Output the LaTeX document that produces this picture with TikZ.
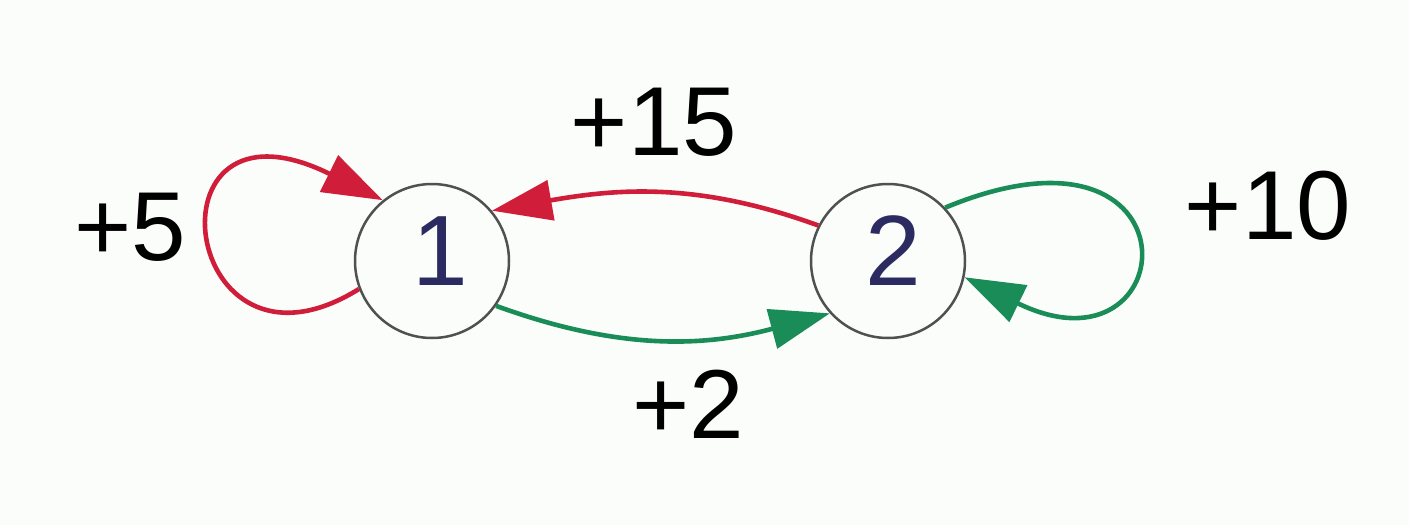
\documentclass[tikz,border=0pt]{standalone}
\usepackage{fontspec}
\setmainfont{Liberation Sans}
\usetikzlibrary{arrows.meta}
\definecolor{edgered}{HTML}{D01E3A}
\definecolor{edgegreen}{HTML}{1A8C58}
\definecolor{numnavy}{HTML}{2B2B62}
\definecolor{ringgray}{HTML}{505050}
\definecolor{bgcol}{HTML}{FBFDFB}
\begin{document}
\begin{tikzpicture}[x=1pt,y=-1pt,
  state/.style={circle,draw=ringgray,line width=2.5pt,minimum size=154pt,inner sep=0pt,
    text=numnavy,font=\fontsize{100}{100}\selectfont,text depth=20pt},
  lab/.style={font=\fontsize{98}{100}\selectfont,text=black,inner sep=0pt},
  redarr/.style={draw=edgered,line width=4.6pt,-{Triangle[length=60pt,width=40pt,fill=edgered]}},
  greenarr/.style={draw=edgegreen,line width=4.6pt,-{Triangle[length=60pt,width=40pt,fill=edgegreen]}}]
\fill[bgcol] (0,0) rectangle (1409,525);
\useasboundingbox (0,0) rectangle (1409,525);
\node[state] (n1) at (432,261) {\hspace*{16pt}1};
\node[state] (n2) at (888,261) {\hspace*{10pt}2};
\node[lab] (l5) at (130,227) {+5};
\node[lab] (l15) at (654,122) {+15};
\node[lab] (l10) at (1268,206) {+10};
\node[lab] (l2) at (688,404) {+2};
\draw[redarr] (n1.201) .. controls (180,400) and (140,80) .. (n1.129);
\draw[redarr] (n2.153) to[out=160,in=10] (n1.40);
\draw[greenarr] (n1.-35) to[out=-20,in=195] (n2.222);
\draw[greenarr] (n2.43) .. controls (1205,100) and (1185,385) .. (n2.-12);
\end{tikzpicture}
\end{document}
